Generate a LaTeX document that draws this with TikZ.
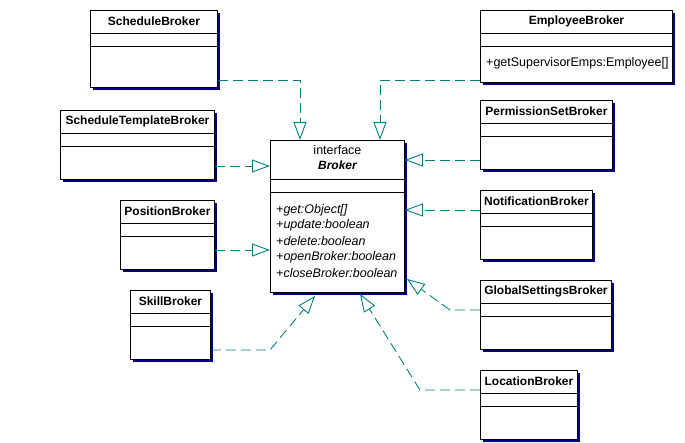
\documentclass[tikz,border=0pt]{standalone}
\usepackage{fontspec}
\setmainfont{Liberation Sans}
\usetikzlibrary{arrows.meta,shadows}

\definecolor{shadowblue}{HTML}{000080}
\definecolor{linkteal}{HTML}{008080}

\tikzset{
  classframe/.style={draw=black, line width=0.9pt, fill=white, inner sep=0pt,
    anchor=north west,
    drop shadow={shadow xshift=3pt, shadow yshift=-3pt, fill=shadowblue, opacity=1}},
  classtitle/.style={font=\bfseries\fontsize{12}{14}\selectfont, inner sep=0pt},
  membertext/.style={font=\fontsize{12.5}{15.6}\selectfont, inner sep=0pt, anchor=west},
  compline/.style={draw=black, line width=0.9pt},
  realize/.style={draw=linkteal, line width=0.9pt, dash pattern=on 10pt off 5pt,
    -{Triangle[length=18pt, width=13pt, fill=white, line width=0.9pt]}},
}

% #1 node name, #2 left, #3 top, #4 width, #5 height, #6 class name
\newcommand\brokerclass[6]{%
  \node[classframe, minimum width=#4pt, minimum height=#5pt] (#1) at (#2,#3) {};
  \node[classtitle] (#1-title) at ([yshift=-11.5pt]#1.north) {#6};
  \draw[compline] ([yshift=-23pt]#1.north west) -- ([yshift=-23pt]#1.north east);
  \draw[compline] ([yshift=-36pt]#1.north west) -- ([yshift=-36pt]#1.north east);
}

\begin{document}
\begin{tikzpicture}[x=1pt, y=-1pt]
\useasboundingbox (0,0) rectangle (685,443);

% implementing classes
\brokerclass{sched}{90}{10}{127}{77}{ScheduleBroker}
\brokerclass{emp}{480}{10}{192}{72}{EmployeeBroker}
\node[membertext] (emp-op) at ([xshift=6pt, yshift=-53pt]emp.north west) {+getSupervisorEmps:Employee[]};
\brokerclass{perm}{480}{100}{132}{69}{PermissionSetBroker}
\brokerclass{stpl}{60}{110}{154}{69}{ScheduleTemplateBroker}
\brokerclass{pos}{120}{200}{94}{69}{PositionBroker}
\brokerclass{skill}{130}{290}{80}{69}{SkillBroker}
\brokerclass{notif}{480}{190}{112}{69}{NotificationBroker}
\brokerclass{glob}{480}{280}{131}{69}{GlobalSettingsBroker}
\brokerclass{loc}{480}{370}{97}{69}{LocationBroker}

% the interface
\node[classframe, minimum width=134pt, minimum height=152pt] (broker) at (270,140) {};
\node[membertext, anchor=center] (broker-stereo) at ([yshift=-10pt]broker.north) {interface};
\node[classtitle, font=\bfseries\itshape\fontsize{12}{14}\selectfont] (broker-title) at ([yshift=-25pt]broker.north) {Broker};
\draw[compline] ([yshift=-39pt]broker.north west) -- ([yshift=-39pt]broker.north east);
\draw[compline] ([yshift=-52pt]broker.north west) -- ([yshift=-52pt]broker.north east);
\foreach \op [count=\i] in {get:Object[], update:boolean, delete:boolean, openBroker:boolean, closeBroker:boolean}
  \node[membertext, font=\itshape\fontsize{12.5}{14}\selectfont] (broker-op\i) at ([xshift=6pt, yshift={-70pt-15.7pt*(\i-1)}]broker.north west) {+\op};

% realization links
\coordinate (k1) at (300,80);
\draw[realize] (k1 -| sched.east) -- (k1) -- (k1 |- broker.north);
\coordinate (k2) at (380,80);
\draw[realize] (k2 -| emp.west) -- (k2) -- (k2 |- broker.north);
\coordinate (k3) at (440,160);
\draw[realize] (k3 -| perm.west) -- (k3 -| broker.east);
\coordinate (k4) at (240,166);
\draw[realize] (k4 -| stpl.east) -- (k4 -| broker.west);
\coordinate (k5) at (240,250);
\draw[realize] (k5 -| pos.east) -- (k5 -| broker.west);
\coordinate (k6) at (270,350);
\draw[realize] (k6 -| skill.east) -- (k6) -- ([xshift=45pt, yshift=-3pt]broker.south west);
\coordinate (k7) at (440,210);
\draw[realize] (k7 -| notif.west) -- (k7 -| broker.east);
\coordinate (k8) at (450,310);
\draw[realize] (k8 -| glob.west) -- (k8) -- ([xshift=2pt, yshift=14pt]broker.south east);
\coordinate (k9) at (420,390);
\draw[realize] (k9 -| loc.west) -- (k9) -- ([xshift=90pt, yshift=-1pt]broker.south west);
\end{tikzpicture}
\end{document}
